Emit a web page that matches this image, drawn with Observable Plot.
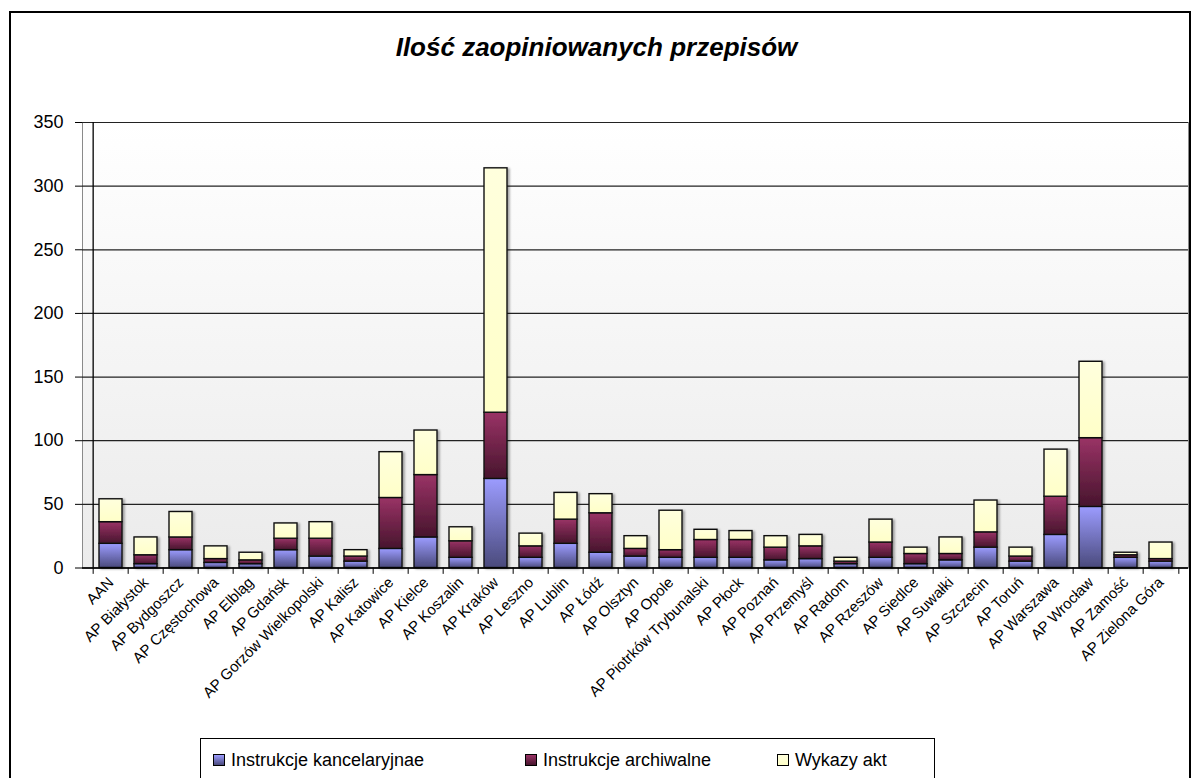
<!DOCTYPE html>
<html>
<head>
<meta charset="utf-8">
<script src="https://cdn.jsdelivr.net/npm/d3@7"></script>
<script src="https://cdn.jsdelivr.net/npm/@observablehq/plot@0.6"></script>
<style>
  body { margin: 0; background: #fff; font-family: "Liberation Sans", Arial, sans-serif; }
  #wrap { position: relative; width: 1193px; height: 778px; overflow: hidden; background: #fff; }
  #border { position: absolute; left: 9px; top: 11px; width: 1182px; height: 800px; border: 2px solid #000; box-sizing: border-box; }
  #title { position: absolute; left: 0; width: 1193px; top: 32px; text-align: center;
           font: italic bold 26px "Liberation Sans", Arial, sans-serif; color: #000; }
  #chart { position: absolute; left: 0; top: 0; }
  #legend { position: absolute; left: 200px; top: 738px; width: 735px; height: 60px; border: 1px solid #000;
            box-sizing: border-box; background: #fff; }
  .item { position: absolute; top: 11px; font: 18px "Liberation Sans", Arial, sans-serif; color: #000; white-space: nowrap; }
  .sw { display: inline-block; width: 10px; height: 10px; border: 1px solid #000; margin-right: 6px; vertical-align: 0px; }
</style>
</head>
<body>
<div id="wrap">
  <div id="border"></div>
  <div id="title">Ilość zaopiniowanych przepisów</div>
  <div id="chart"></div>
  <div id="legend"></div>
</div>
<script>
const categories = ["AAN","AP Białystok","AP Bydgoszcz","AP Częstochowa","AP Elbląg","AP Gdańsk","AP Gorzów Wielkopolski","AP Kalisz","AP Katowice","AP Kielce","AP Koszalin","AP Kraków","AP Leszno","AP Lublin","AP Łódź","AP Olsztyn","AP Opole","AP Piotrków Trybunalski","AP Płock","AP Poznań","AP Przemyśl","AP Radom","AP Rzeszów","AP Siedlce","AP Suwałki","AP Szczecin","AP Toruń","AP Warszawa","AP Wrocław","AP Zamość","AP Zielona Góra"];
const seriesNames = ["Instrukcje kancelaryjnae","Instrukcje archiwalne","Wykazy akt"];
const kancelaryjne = [19,3,14,4,3,14,9,5,15,24,8,70,8,19,12,9,8,8,8,6,7,3,8,3,6,16,5,26,48,8,5];
const archiwalne   = [17,7,10,3,3,9,14,4,40,49,13,52,9,19,31,6,6,14,14,10,10,2,12,8,5,12,4,30,54,2,2];
const wykazy       = [18,14,20,10,6,12,13,5,36,35,11,192,10,21,15,10,31,8,7,9,9,3,18,5,13,25,7,37,60,2,13];
const yTicks = [0,50,100,150,200,250,300,350];

const seriesValues = [kancelaryjne, archiwalne, wykazy];
const table = [];
seriesNames.forEach((s, si) => categories.forEach((c, ci) => table.push({cat: c, series: s, value: seriesValues[si][ci]})));

const gradients = [
  {id: "gBlue", top: "#9c9cff", bottom: "#4a4a7c"},
  {id: "gMaroon", top: "#9a3366", bottom: "#47152d"},
  {id: "gYellow", top: "#ffffdd", bottom: "#ffffc8"}
];

const W = 1193, H = 778;
const mL = 82, mR = 5, mT = 122, mB = H - 567.5;
const band = (W - mL - mR) / categories.length;

const chart = Plot.plot({
  width: W, height: H,
  marginLeft: mL, marginRight: mR, marginTop: mT, marginBottom: mB,
  style: {fontFamily: "Liberation Sans, Arial, sans-serif", background: "transparent", overflow: "visible", color: "#000"},
  x: {domain: categories, padding: 0, label: null},
  y: {domain: [0, 350], label: null},
  color: {domain: seriesNames, range: gradients.map(g => `url(#${g.id})`)},
  marks: [
    Plot.frame({fill: "url(#gBg)", stroke: "#8a8a8a"}),
    Plot.gridY(yTicks, {stroke: "#222", strokeOpacity: 1, strokeWidth: 1.2}),
    Plot.barY(table, {x: "cat", y: "value", fill: "series", order: seriesNames,
      stroke: "#111", strokeWidth: 1.4, insetLeft: 6, insetRight: 6}),
    Plot.ruleY([0], {stroke: "#000", strokeWidth: 1.3}),
    Plot.ruleX([categories[0]], {x: d => d, y1: 0, y2: 350, dx: -band / 2, stroke: "#000", strokeWidth: 1.3}),
    Plot.ruleX(categories, {x: d => d, y1: 0, y2: -5, dx: -band / 2, stroke: "#000"}),
    Plot.ruleX([categories[categories.length - 1]], {x: d => d, y1: 0, y2: -5, dx: band / 2, stroke: "#000"}),
    Plot.axisY(yTicks, {tickSize: 7, tickPadding: 12, fontSize: 18, label: null, stroke: "#000"}),
    Plot.axisX({tickRotate: -45, tickSize: 0, tickPadding: 12, fontSize: 15, label: null})
  ]
});

const ns = "http://www.w3.org/2000/svg";
const defs = document.createElementNS(ns, "defs");
function lin(id, stops) {
  const g = document.createElementNS(ns, "linearGradient");
  g.setAttribute("id", id); g.setAttribute("x1", 0); g.setAttribute("y1", 0); g.setAttribute("x2", 0); g.setAttribute("y2", 1);
  stops.forEach(([o, c]) => { const s = document.createElementNS(ns, "stop"); s.setAttribute("offset", o); s.setAttribute("stop-color", c); g.appendChild(s); });
  defs.appendChild(g);
}
gradients.forEach(g => lin(g.id, [[0, g.top], [1, g.bottom]]));
lin("gBg", [[0, "#ffffff"], [1, "#ebebeb"]]);
const f = document.createElementNS(ns, "filter");
f.setAttribute("id", "shadow"); f.setAttribute("x", "-20%"); f.setAttribute("y", "-20%"); f.setAttribute("width", "160%"); f.setAttribute("height", "160%");
const ds = document.createElementNS(ns, "feDropShadow");
ds.setAttribute("dx", 2); ds.setAttribute("dy", 1); ds.setAttribute("stdDeviation", 1.2); ds.setAttribute("flood-color", "#000"); ds.setAttribute("flood-opacity", 0.35);
f.appendChild(ds); defs.appendChild(f);
chart.insertBefore(defs, chart.firstChild);
const barG = chart.querySelector('g[aria-label="bar"]');
if (barG) barG.setAttribute("filter", "url(#shadow)");
document.getElementById("chart").appendChild(chart);

const legend = document.getElementById("legend");
const lx = [12, 324, 576];
seriesNames.forEach((s, i) => {
  const d = document.createElement("div");
  d.className = "item";
  d.style.left = lx[i] + "px";
  const sw = document.createElement("span");
  sw.className = "sw";
  sw.style.background = `linear-gradient(${gradients[i].top}, ${gradients[i].bottom})`;
  d.appendChild(sw);
  d.appendChild(document.createTextNode(s));
  legend.appendChild(d);
});
</script>
</body>
</html>
